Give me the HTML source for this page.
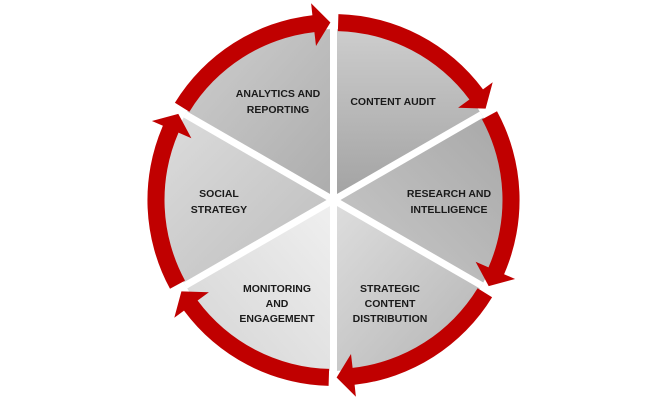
<!DOCTYPE html>
<html><head><meta charset="utf-8"><style>
html,body{margin:0;padding:0;background:#fff;width:668px;height:405px;overflow:hidden}
svg text{font-family:"Liberation Sans",sans-serif;font-weight:bold;font-size:10.5px;fill:#1a1a1a;text-anchor:middle}
</style></head><body>
<svg id="s" width="668" height="405" viewBox="0 0 668 405" xmlns="http://www.w3.org/2000/svg">
<defs>
<linearGradient id="g1" x1="0" y1="1" x2="0" y2="0"><stop offset="0" stop-color="#a2a2a2"/><stop offset="1" stop-color="#cdcdcd"/></linearGradient>
<linearGradient id="g2" x1="1" y1="0" x2="0" y2="1"><stop offset="0" stop-color="#a8a8a8"/><stop offset="1" stop-color="#cacaca"/></linearGradient>
<linearGradient id="g3" x1="0" y1="0" x2="1" y2="1"><stop offset="0" stop-color="#dedede"/><stop offset="1" stop-color="#b4b4b4"/></linearGradient>
<linearGradient id="g4" x1="0" y1="1" x2="1" y2="0"><stop offset="0" stop-color="#d4d4d4"/><stop offset="1" stop-color="#f0f0f0"/></linearGradient>
<linearGradient id="g5" x1="0" y1="0" x2="1" y2="1"><stop offset="0" stop-color="#dcdcdc"/><stop offset="1" stop-color="#bcbcbc"/></linearGradient>
<linearGradient id="g6" x1="0" y1="0" x2="1" y2="1"><stop offset="0" stop-color="#cecece"/><stop offset="1" stop-color="#acacac"/></linearGradient>
</defs>
<g id="shapes"></g>
<text x="278" y="97">ANALYTICS AND</text>
<text x="278" y="113">REPORTING</text>
<text x="393" y="105">CONTENT AUDIT</text>
<text x="449" y="197">RESEARCH AND</text>
<text x="449" y="213">INTELLIGENCE</text>
<text x="219" y="197">SOCIAL</text>
<text x="219" y="213">STRATEGY</text>
<text x="277" y="292">MONITORING</text>
<text x="277" y="307">AND</text>
<text x="277" y="322">ENGAGEMENT</text>
<text x="390" y="292">STRATEGIC</text>
<text x="390" y="307">CONTENT</text>
<text x="390" y="322">DISTRIBUTION</text>
</svg>
<script>
var cx=333.5,cy=200,R=171,g=document.getElementById('shapes'),h='';
function P(r,a){a=a*Math.PI/180;return (cx+r*Math.cos(a)).toFixed(1)+','+(cy+r*Math.sin(a)).toFixed(1);}
var fills=['g1','g2','g3','g4','g5','g6'];
for(var i=0;i<6;i++){var a0=-90+60*i,a1=a0+60;
h+='<path d="M'+cx+','+cy+' L'+P(R,a0)+' A'+R+','+R+' 0 0 1 '+P(R,a1)+' Z" fill="url(#'+fills[i]+')"/>';}
var r1=169,r2=186;
for(var i=0;i<6;i++){var a0=-90+60*i+1.5,a1=a0+57.5,ab=a1-5.5;
h+='<path d="M'+P(r2,a0)+' A'+r2+','+r2+' 0 0 1 '+P(r2,ab)+' L'+P(r2+12,ab)+' L'+P(177.5,a1)+' L'+P(r1-14,ab)+' L'+P(r1,ab)+' A'+r1+','+r1+' 0 0 0 '+P(r1,a0)+' Z" fill="#c00000"/>';}
for(var i=0;i<6;i++){var a=-90+60*i,q=P(R,a).split(',');h+='<line x1="'+cx+'" y1="'+cy+'" x2="'+q[0]+'" y2="'+q[1]+'" stroke="#fff" stroke-width="7"/>';}
g.innerHTML=h;
</script>
</body></html>
